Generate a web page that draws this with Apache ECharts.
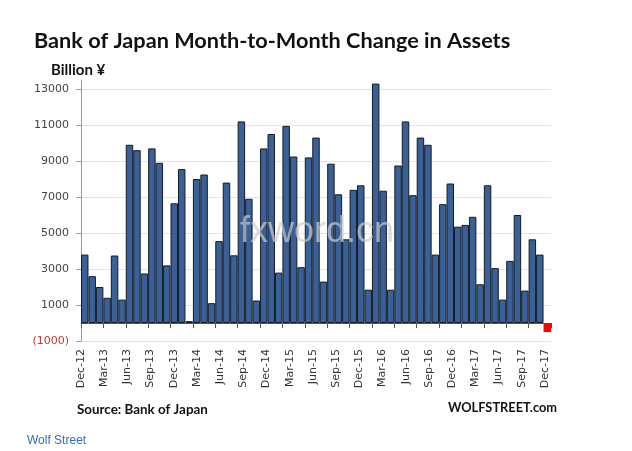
<!DOCTYPE html>
<html>
<head>
<meta charset="utf-8">
<script src="https://cdn.jsdelivr.net/npm/echarts@6/dist/echarts.min.js"></script>
<style>
  html, body { margin: 0; padding: 0; background: #ffffff; }
  #chart { width: 632px; height: 451px; }
</style>
</head>
<body>
<div id="chart"></div>
<script>
// Monthly bars (63 columns), last one (Dec-17) negative
const months = [
  'Oct-12','Nov-12','Dec-12','Jan-13','Feb-13','Mar-13','Apr-13','May-13','Jun-13','Jul-13','Aug-13','Sep-13',
  'Oct-13','Nov-13','Dec-13','Jan-14','Feb-14','Mar-14','Apr-14','May-14','Jun-14','Jul-14','Aug-14','Sep-14',
  'Oct-14','Nov-14','Dec-14','Jan-15','Feb-15','Mar-15','Apr-15','May-15','Jun-15','Jul-15','Aug-15','Sep-15',
  'Oct-15','Nov-15','Dec-15','Jan-16','Feb-16','Mar-16','Apr-16','May-16','Jun-16','Jul-16','Aug-16','Sep-16',
  'Oct-16','Nov-16','Dec-16','Jan-17','Feb-17','Mar-17','Apr-17','May-17','Jun-17','Jul-17','Aug-17','Sep-17',
  'Oct-17','Nov-17','Dec-17'
];
const changes = [
  3800, 2600, 2000, 1400, 3750, 1300, 9900, 9600, 2750, 9700, 8900, 3200,
  6650, 8550, 100, 8000, 8250, 1100, 4550, 7800, 3760, 11200, 6900, 1250,
  9700, 10500, 2800, 10950, 9250, 3100, 9200, 10300, 2300, 8850, 7150, 4650,
  7400, 7650, 1850, 13300, 7350, 1850, 8750, 11200, 7100, 10300, 9900, 3800,
  6600, 7750, 5350, 5450, 5900, 2150, 7650, 3050, 1300, 3450, 6000, 1800,
  4650, 3800, -500
];
const tickLabels = [
  'Dec-12','Mar-13','Jun-13','Sep-13','Dec-13','Mar-14','Jun-14','Sep-14','Dec-14','Mar-15','Jun-15',
  'Sep-15','Dec-15','Mar-16','Jun-16','Sep-16','Dec-16','Mar-17','Jun-17','Sep-17','Dec-17'
];
const yTicks = [-1000, 1000, 3000, 5000, 7000, 9000, 11000, 13000];

const chart = echarts.init(document.getElementById('chart'), null, { renderer: 'canvas' });

const barData = changes.map(v => v < 0
  ? { value: v, itemStyle: { color: '#ff0000', borderWidth: 0 } }
  : v);

const option = {
  backgroundColor: '#ffffff',
  animation: false,
  grid: { left: 81, right: 81, top: 80, bottom: 110, containLabel: false },
  xAxis: [
    {
      type: 'category',
      data: months,
      position: 'top',
      axisLine: { show: true, onZero: true, lineStyle: { color: '#555555', width: 1 } },
      axisTick: { show: true, interval: 2, inside: true, length: 5, lineStyle: { color: '#555555' } },
      axisLabel: { show: false },
      splitLine: { show: false }
    },
    {
      type: 'value',
      position: 'bottom',
      min: 0,
      max: 20.26,
      interval: 1,
      axisLine: { show: false },
      axisTick: { show: false },
      splitLine: { show: false },
      axisLabel: {
        show: true,
        rotate: 90,
        margin: 8,
        showMaxLabel: false,
        fontFamily: 'DejaVu Sans',
        fontSize: 11,
        color: '#333333',
        formatter: v => tickLabels[Math.round(v)] !== undefined && Math.abs(v - Math.round(v)) < 1e-6 ? tickLabels[Math.round(v)] : ''
      }
    }
  ],
  yAxis: {
    type: 'value',
    min: -1000,
    max: 13500,
    axisLine: { show: true, lineStyle: { color: '#9a9a9a', width: 1 } },
    axisTick: { show: true, length: 5, customValues: yTicks, lineStyle: { color: '#9a9a9a' } },
    splitLine: { show: true, lineStyle: { color: '#dfe5ea', width: 1 } },
    axisLabel: {
      customValues: yTicks,
      margin: 12,
      fontFamily: 'DejaVu Sans',
      fontSize: 11,
      color: '#444444',
      formatter: v => v < 0 ? '{neg|(' + (-v) + ')}' : String(v),
      rich: { neg: { color: '#c0392b', fontFamily: 'DejaVu Sans', fontSize: 11 } }
    }
  },
  series: [
    {
      type: 'bar',
      xAxisIndex: 0,
      yAxisIndex: 0,
      data: barData,
      barCategoryGap: '0%',
      itemStyle: { color: '#3a6197', borderColor: '#151a22', borderWidth: 1 }
    }
  ],
  graphic: [
    { type: 'text', x: 34, y: 41, z: 100, style: { text: 'Bank of Japan Month-to-Month Change in Assets', font: 'bold 21.7px Lato', fill: '#111111', textVerticalAlign: 'middle' } },
    { type: 'text', x: 51, y: 70, z: 100, style: { text: 'Billion ¥', font: 'bold 15px Lato', fill: '#111111', textVerticalAlign: 'middle' } },
    { type: 'text', x: 77, y: 410, z: 100, style: { text: 'Source: Bank of Japan', font: 'bold 13.4px Lato', fill: '#111111', textVerticalAlign: 'middle' } },
    { type: 'text', x: 557, y: 408, z: 100, style: { text: 'WOLFSTREET.com', font: 'bold 12.8px Lato', fill: '#111111', textAlign: 'right', textVerticalAlign: 'middle' } },
    { type: 'text', x: 27, y: 441, z: 100, style: { text: 'Wolf Street', font: '12px "Liberation Sans"', fill: '#2f6fb8', textVerticalAlign: 'middle' } },
    { type: 'text', x: 240, y: 232, z: 100, style: { text: 'fxword.cn', font: '36px "Liberation Sans"', fill: 'rgba(205,205,205,0.7)', textVerticalAlign: 'middle' } }
  ]
};
chart.setOption(option);
</script>
</body>
</html>
